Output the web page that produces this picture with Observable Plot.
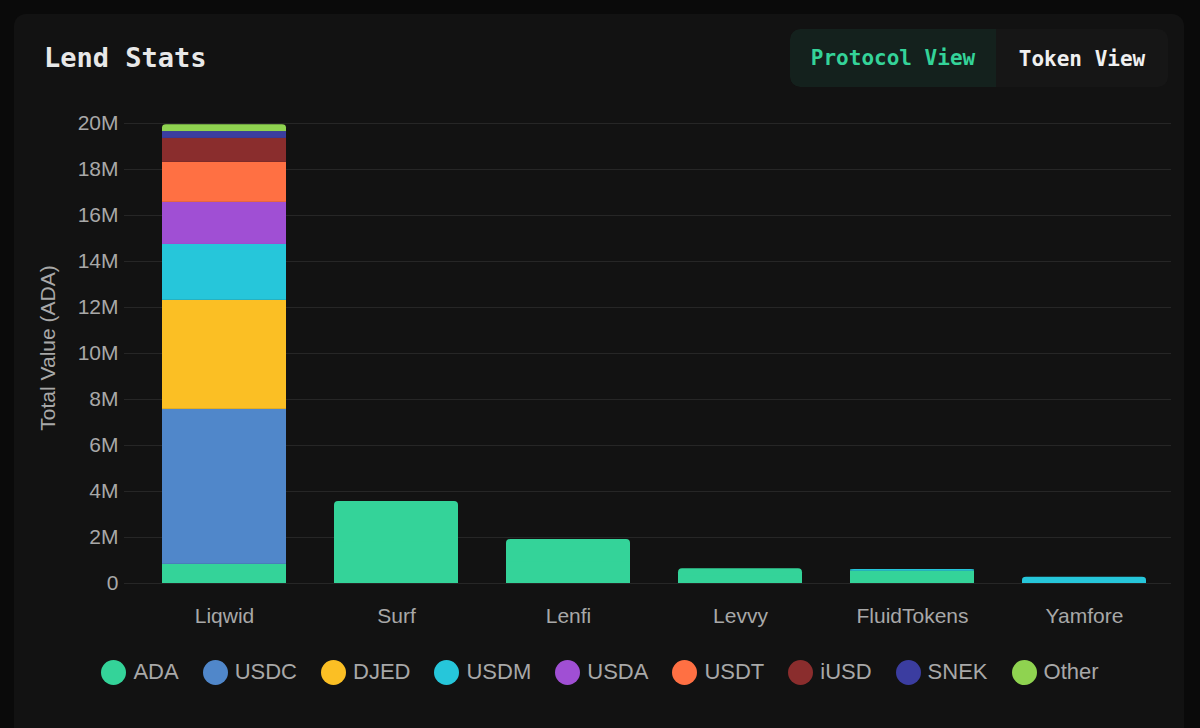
<!DOCTYPE html>
<html>
<head>
<meta charset="utf-8">
<script src="https://cdn.jsdelivr.net/npm/d3@7"></script>
<script src="https://cdn.jsdelivr.net/npm/@observablehq/plot@0.6"></script>
<style>
  html, body { margin: 0; padding: 0; background: #0a0a0a; width: 1200px; height: 728px; overflow: hidden; }
  #card { position: absolute; left: 14px; top: 14px; width: 1170px; height: 740px; background: #121212; border-radius: 12px; }
  #title { position: absolute; left: 44px; top: 42px; font-family: "DejaVu Sans Mono", monospace; font-weight: bold; font-size: 27px; color: #e8e8e8; }
  #toggle { position: absolute; left: 790px; top: 29px; width: 378px; height: 58px; background: #161616; border-radius: 10px; overflow: hidden; font-family: "DejaVu Sans Mono", monospace; font-weight: bold; font-size: 21px; }
  #toggle div { position: absolute; top: 1px; height: 58px; line-height: 58px; text-align: center; }
  #tp { left: 0; width: 206px; background: #14211d; color: #34d399; border-radius: 10px 0 0 10px; top: 0 !important; }
  #tt { left: 206px; width: 172px; color: #f0f0f0; }
  #chart { position: absolute; left: 0; top: 100px; }
  #ylabel { position: absolute; left: 48px; top: 348px; transform: translate(-50%, -50%) rotate(-90deg); white-space: nowrap; font-family: "Liberation Sans", Arial, sans-serif; font-size: 21px; color: #a8a8a8; }
  #legend { position: absolute; left: 0; top: 659px; width: 1200px; display: flex; justify-content: center; font-family: "Liberation Sans", Arial, sans-serif; font-size: 22px; color: #a8a8a8; }
  .li { display: flex; align-items: center; margin: 0 12px; }
  .sw { width: 25px; height: 25px; border-radius: 50%; margin-right: 7px; }
</style>
</head>
<body>
<div id="card"></div>
<div id="title">Lend Stats</div>
<div id="toggle"><div id="tp">Protocol View</div><div id="tt">Token View</div></div>
<div id="chart"></div>
<div id="ylabel">Total Value (ADA)</div>
<div id="legend"></div>
<script>
const protocols = ["Liqwid", "Surf", "Lenfi", "Levvy", "FluidTokens", "Yamfore"];
const tokens = ["ADA", "USDC", "DJED", "USDM", "USDA", "USDT", "iUSD", "SNEK", "Other"];
const tokenColors = ["#34d399", "#5087ca", "#fbbf24", "#26c6da", "#a04fd4", "#ff7043", "#8a2d2d", "#3b3da0", "#8fd350"];
// values in millions of ADA, per protocol, in token order
const liqwid      = [0.83, 6.74, 4.74, 2.43, 1.83, 1.74, 1.04, 0.30, 0.30];
const surf        = [3.57, 0, 0, 0, 0, 0, 0, 0, 0];
const lenfi       = [1.91, 0, 0, 0, 0, 0, 0, 0, 0];
const levvy       = [0.64, 0, 0, 0, 0, 0, 0, 0, 0];
const fluidTokens = [0.54, 0, 0, 0.07, 0, 0, 0, 0, 0];
const yamfore     = [0, 0, 0, 0.27, 0, 0, 0, 0, 0];
const yTicks = [0, 2, 4, 6, 8, 10, 12, 14, 16, 18, 20];
const yTickLabels = ["0", "2M", "4M", "6M", "8M", "10M", "12M", "14M", "16M", "18M", "20M"];

const seriesByProtocol = [liqwid, surf, lenfi, levvy, fluidTokens, yamfore];
const segs = [];
const tops = [];
protocols.forEach((p, i) => {
  let base = 0;
  let last = null;
  seriesByProtocol[i].forEach((v, j) => {
    if (v > 0) {
      const s = {protocol: p, token: tokens[j], y1: base, y2: base + v};
      segs.push(s);
      last = s;
      base += v;
    }
  });
  if (last) tops.push(last);
});
const topSet = new Set(tops);
const flatSegs = segs.filter(s => !topSet.has(s));
const topLower = tops.map(s => ({...s, y2: (s.y1 + s.y2) / 2}));

const color = {domain: tokens, range: tokenColors};
const plot = Plot.plot({
  width: 1200,
  height: 540,
  marginLeft: 137,
  marginRight: 29,
  marginTop: 23,
  marginBottom: 57,
  style: {background: "transparent", color: "#a8a8a8", fontFamily: "'Liberation Sans', Arial, sans-serif", fontSize: "22px"},
  x: {domain: protocols, paddingInner: 0.28, paddingOuter: 0.14, label: null},
  y: {domain: [0, 20], label: null},
  color,
  marks: [
    Plot.ruleY(yTicks, {stroke: "#262626", strokeWidth: 1, insetLeft: -13}),
    Plot.rectY(flatSegs, {x: "protocol", y1: "y1", y2: "y2", fill: "token"}),
    Plot.rectY(tops, {x: "protocol", y1: "y1", y2: "y2", fill: "token", rx: 4}),
    Plot.rectY(topLower, {x: "protocol", y1: "y1", y2: "y2", fill: "token"}),
    Plot.axisY(yTicks, {tickSize: 0, tickPadding: 19, tickFormat: (d) => yTickLabels[yTicks.indexOf(d)], label: null, fontSize: 21}),
    Plot.axisX({tickSize: 0, tickPadding: 25, label: null, fontSize: 21})
  ]
});
document.getElementById("chart").appendChild(plot);

const legend = document.getElementById("legend");
tokens.forEach((t, i) => {
  const li = document.createElement("div");
  li.className = "li";
  const sw = document.createElement("div");
  sw.className = "sw";
  sw.style.background = tokenColors[i];
  const lab = document.createElement("span");
  lab.textContent = t;
  li.appendChild(sw);
  li.appendChild(lab);
  legend.appendChild(li);
});
</script>
</body>
</html>
